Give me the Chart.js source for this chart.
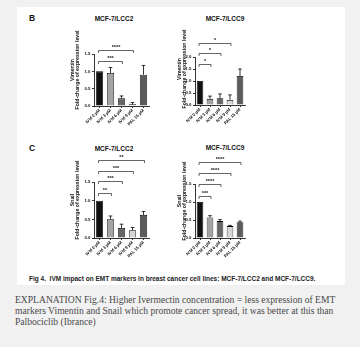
<!DOCTYPE html>
<html>
<head>
<meta charset="utf-8">
<script src="https://cdn.jsdelivr.net/npm/chart.js@4"></script>
<style>
  html, body { margin: 0; padding: 0; }
  body { width: 360px; height: 347px; background: #f1f1f1; position: relative; overflow: hidden; }
  #sheet { position: absolute; left: 17px; top: 7px; width: 328px; height: 278px; background: #fff; }
  canvas { position: absolute; }
  .lbl { position: absolute; font-family: "Liberation Sans", Arial, sans-serif; font-weight: bold; color: #111; white-space: nowrap; }
  .panel { font-size: 8.5px; }
  .ttl { font-size: 6.5px; transform: translateX(-50%); }
  #caption { left: 29px; top: 275px; font-size: 6.5px; color: #222; }
  #explain { position: absolute; left: 15px; top: 295px; width: 336px; font-family: "Liberation Serif", "Times New Roman", serif;
             font-size: 9.6px; line-height: 10.8px; color: #4a4a4a; }
</style>
</head>
<body>
<div id="sheet"></div>

<div class="lbl panel" style="left:29px;top:13px">B</div>
<div class="lbl panel" style="left:29px;top:143px">C</div>
<div class="lbl ttl" style="left:114px;top:15px">MCF-7/LCC2</div>
<div class="lbl ttl" style="left:225px;top:15px">MCF-7/LCC9</div>
<div class="lbl ttl" style="left:114px;top:145px">MCF-7/LCC2</div>
<div class="lbl ttl" style="left:225px;top:144px">MCF-7/LCC9</div>

<canvas id="vimLcc2" width="130" height="130" style="left:40px;top:10px"></canvas>
<canvas id="vimLcc9" width="100" height="130" style="left:172px;top:10px"></canvas>
<canvas id="snailLcc2" width="130" height="130" style="left:40px;top:140px"></canvas>
<canvas id="snailLcc9" width="100" height="130" style="left:172px;top:140px"></canvas>

<div class="lbl" id="caption">Fig 4.&nbsp; IVM impact on EMT markers in breast cancer cell lines: MCF-7/LCC2 and MCF-7/LCC9.</div>
<div id="explain">EXPLANATION Fig.4: Higher Ivermectin concentration = less expression of EMT markers Vimentin and Snail which promote cancer spread, it was better at this than Palbociclib (Ibrance)</div>

<script>
const doses = ['IVM 0 µM', 'IVM 3 µM', 'IVM 6 µM', 'IVM 9 µM', 'PAL 15 µM'];

// mean fold-change and upper SD, one value per dose
const vimLcc2 = [1.0, 0.95, 0.22, 0.05, 0.90];
const vimLcc2Err = [0, 0.16, 0.07, 0.05, 0.27];
const vimLcc9 = [1.0, 0.25, 0.28, 0.21, 1.21];
const vimLcc9Err = [0, 0.12, 0.18, 0.21, 0.29];
const snailLcc2 = [1.0, 0.50, 0.27, 0.21, 0.62];
const snailLcc2Err = [0, 0.09, 0.10, 0.07, 0.09];
const snailLcc9 = [1.0, 0.57, 0.47, 0.33, 0.44];
const snailLcc9Err = [0, 0.05, 0.04, 0.02, 0.03];

// significance brackets: [from bar, to bar, height on y scale, stars]
const vimLcc2Sig = [[0, 2, 1.29, '***'], [0, 3, 1.62, '****']];
const vimLcc9Sig = [[0, 1, 1.70, '*'], [0, 2, 2.18, '*'], [0, 3, 2.60, '*']];
const snailLcc2Sig = [[0, 1, 1.21, '**'], [0, 2, 1.52, '***'], [0, 3, 1.79, '***'], [0, 4, 2.08, '**']];
const snailLcc9Sig = [[0, 1, 1.17, '***'], [0, 2, 1.50, '****'], [0, 3, 1.81, '****'], [0, 4, 2.12, '****']];

const barFill = ['#111111', '#a4a4a4', '#666666', '#d6d6d6', '#5c5c5c'];
const FONT = '"Liberation Sans", Arial, sans-serif';

function errorBarPlugin(err) {
  return {
    id: 'errorBars',
    afterDatasetsDraw(chart) {
      const { ctx, scales: { y } } = chart;
      const meta = chart.getDatasetMeta(0);
      const vals = chart.data.datasets[0].data;
      ctx.save();
      ctx.strokeStyle = '#000';
      ctx.lineWidth = 0.8;
      meta.data.forEach((bar, i) => {
        if (!err[i]) return;
        const yTop = y.getPixelForValue(vals[i] + err[i]);
        ctx.beginPath();
        ctx.moveTo(bar.x, bar.y);
        ctx.lineTo(bar.x, yTop);
        ctx.moveTo(bar.x - 1.8, yTop);
        ctx.lineTo(bar.x + 1.8, yTop);
        ctx.stroke();
      });
      ctx.restore();
    }
  };
}

function bracketPlugin(sig) {
  return {
    id: 'brackets',
    afterDraw(chart) {
      const { ctx, scales: { y } } = chart;
      const meta = chart.getDatasetMeta(0);
      ctx.save();
      ctx.strokeStyle = '#222';
      ctx.fillStyle = '#222';
      ctx.lineWidth = 0.7;
      ctx.font = 'bold 5.5px ' + FONT;
      ctx.textAlign = 'center';
      ctx.textBaseline = 'alphabetic';
      sig.forEach(([a, b, level, stars]) => {
        const x1 = meta.data[a].x - 1;
        const x2 = meta.data[b].x + 1;
        const yy = Math.round(y.getPixelForValue(level)) + 0.5;
        ctx.beginPath();
        ctx.moveTo(x1, yy + 2.5);
        ctx.lineTo(x1, yy);
        ctx.lineTo(x2, yy);
        ctx.lineTo(x2, yy + 2.5);
        ctx.stroke();
        ctx.fillText(stars, (x1 + x2) / 2, yy - 1.5);
      });
      ctx.restore();
    }
  };
}

// two-line rotated y title, placed relative to the axis line
function yTitlePlugin(lines, offsets, shift) {
  return {
    id: 'yTitles',
    afterDraw(chart) {
      const { ctx, chartArea: area } = chart;
      const cy = (area.top + area.bottom) / 2 + shift;
      ctx.save();
      ctx.fillStyle = '#111';
      ctx.font = 'bold 5.2px ' + FONT;
      ctx.textAlign = 'center';
      ctx.textBaseline = 'middle';
      lines.forEach((txt, i) => {
        ctx.save();
        ctx.translate(area.left + offsets[i], cy);
        ctx.rotate(-Math.PI / 2);
        ctx.fillText(txt, 0, 0);
        ctx.restore();
      });
      ctx.restore();
    }
  };
}

function makeChart(id, values, err, sig, marker, yMax, box) {
  const canvas = document.getElementById(id);
  return new Chart(canvas, {
    type: 'bar',
    data: {
      labels: doses,
      datasets: [{
        data: values,
        backgroundColor: barFill,
        borderColor: '#000',
        borderWidth: 0.8,
        barPercentage: 0.66,
        categoryPercentage: 1
      }]
    },
    options: {
      responsive: false,
      animation: false,
      layout: { padding: { top: box.top, right: box.right, left: 0, bottom: 0 } },
      plugins: { legend: { display: false }, tooltip: { enabled: false } },
      scales: {
        x: {
          grid: { drawOnChartArea: false, offset: false, tickLength: 2, color: '#000', lineWidth: 0.8 },
          border: { color: '#000', width: 0.8 },
          ticks: { color: '#111', font: { family: FONT, size: 4.3, weight: 'bold' },
                   minRotation: 45, maxRotation: 45, autoSkip: false, padding: 0 },
          afterFit: s => { s.height = box.xh; }
        },
        y: {
          min: 0,
          max: yMax,
          grid: { drawOnChartArea: false, tickLength: 2, color: '#000', lineWidth: 0.8 },
          border: { color: '#000', width: 0.8 },
          ticks: { stepSize: 0.5, color: '#111', padding: 1.5,
                   font: { family: FONT, size: 4.3, weight: 'bold' },
                   callback: v => v.toFixed(1) },
          afterFit: s => { s.width = box.yw; }
        }
      }
    },
    plugins: [
      errorBarPlugin(err),
      bracketPlugin(sig),
      yTitlePlugin([marker, 'Fold-change of expression level'], box.titleX, box.titleShift)
    ]
  });
}

makeChart('vimLcc2', vimLcc2, vimLcc2Err, vimLcc2Sig, 'Vimentin', 1.5,
  { top: 44, right: 21, xh: 34, yw: 54, titleX: [-21, -16], titleShift: -10 });
makeChart('vimLcc9', vimLcc9, vimLcc9Err, vimLcc9Sig, 'Vimentin', 2.0,
  { top: 47, right: 27, xh: 35, yw: 23, titleX: [-15, -10.5], titleShift: -12 });
makeChart('snailLcc2', snailLcc2, snailLcc2Err, snailLcc2Sig, 'Snail', 1.5,
  { top: 42, right: 21, xh: 32, yw: 54, titleX: [-21, -16], titleShift: -10 });
makeChart('snailLcc9', snailLcc9, snailLcc9Err, snailLcc9Sig, 'Snail', 1.5,
  { top: 44, right: 27, xh: 32, yw: 23, titleX: [-15, -10.5], titleShift: -10 });
</script>
</body>
</html>
